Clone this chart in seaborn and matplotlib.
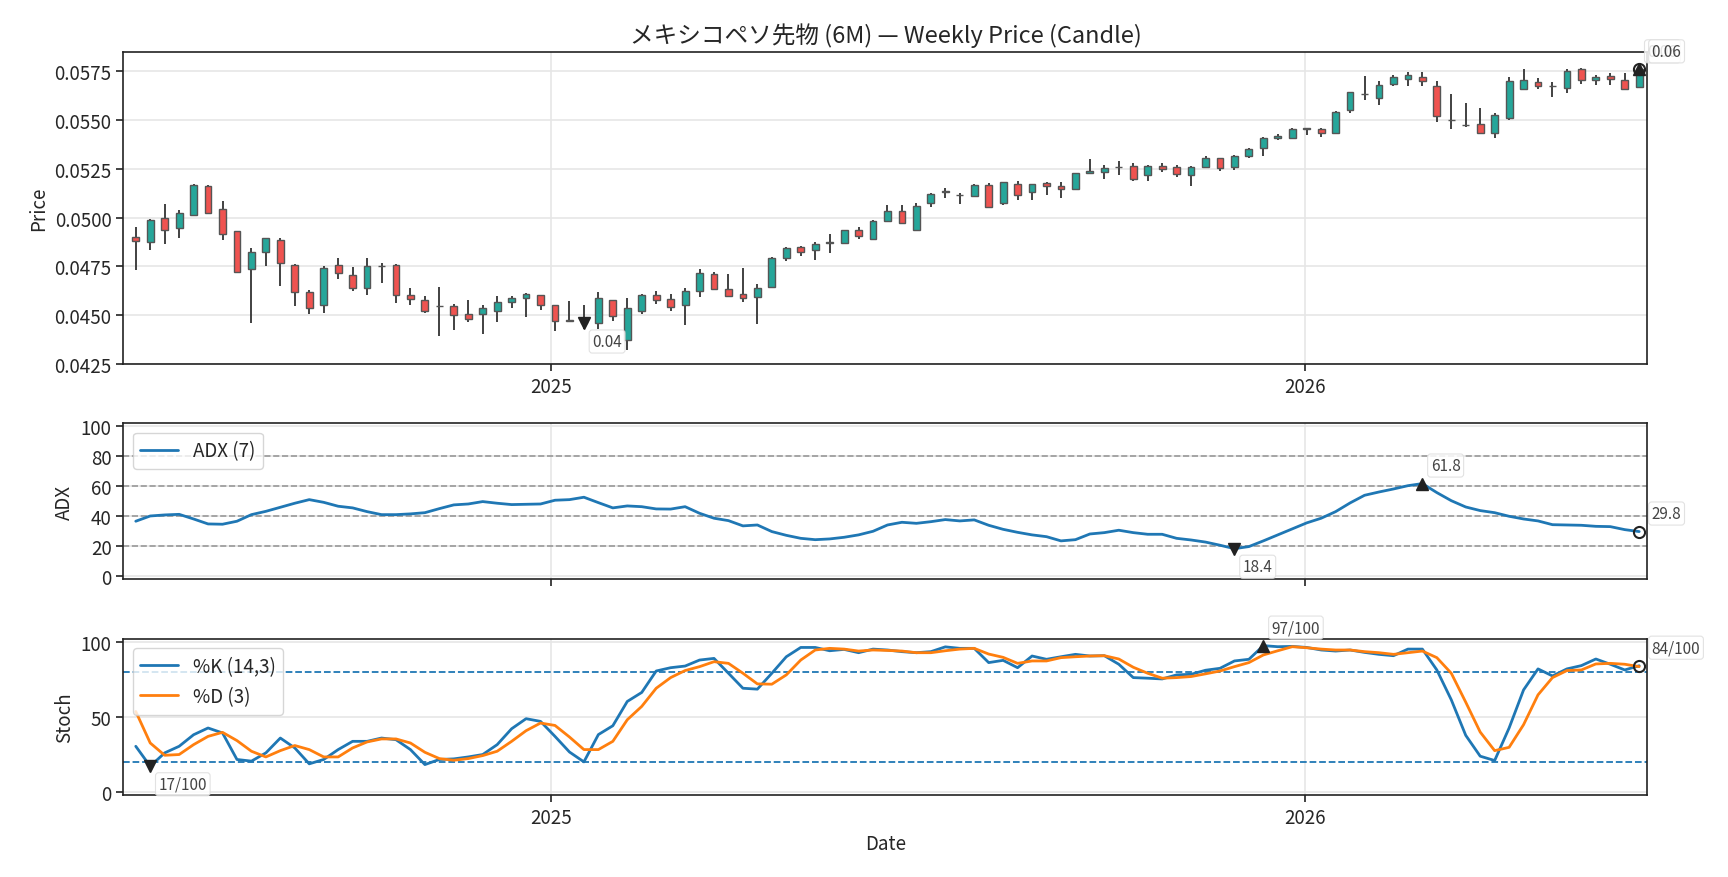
import numpy as np
import pandas as pd
import matplotlib
matplotlib.use("Agg")
import matplotlib.pyplot as plt
import matplotlib.dates as mdates
import seaborn as sns

# weekly OHLC, MXN futures (6M)
dates = pd.date_range("2024-06-14", periods=105, freq="7D")

opens = [0.04899, 0.04873, 0.04996, 0.04945, 0.05012, 0.05163, 0.05044, 0.04931, 0.04734, 0.04825,
         0.04885, 0.04757, 0.04618, 0.04550, 0.04757, 0.04705, 0.04637, 0.04751, 0.04757, 0.04603,
         0.04577, 0.04548, 0.04546, 0.04505, 0.04507, 0.04519, 0.04565, 0.04586, 0.04603, 0.04551,
         0.04474, 0.04469, 0.04457, 0.04575, 0.04372, 0.04520, 0.04603, 0.04580, 0.04551, 0.04623,
         0.04712, 0.04633, 0.04608, 0.04591, 0.04645, 0.04791, 0.04849, 0.04832, 0.04870, 0.04868,
         0.04935, 0.04889, 0.04981, 0.05032, 0.04938, 0.05075, 0.05132, 0.05116, 0.05111, 0.05168,
         0.05073, 0.05171, 0.05130, 0.05176, 0.05161, 0.05145, 0.05228, 0.05233, 0.05257, 0.05263,
         0.05219, 0.05265, 0.05260, 0.05217, 0.05258, 0.05306, 0.05258, 0.05315, 0.05356, 0.05407,
         0.05409, 0.05455, 0.05455, 0.05436, 0.05551, 0.05632, 0.05611, 0.05683, 0.05710, 0.05722,
         0.05676, 0.05500, 0.05475, 0.05481, 0.05436, 0.05513, 0.05661, 0.05697, 0.05675, 0.05664,
         0.05762, 0.05707, 0.05724, 0.05707, 0.05671]
highs = [0.04954, 0.04995, 0.05068, 0.05041, 0.05171, 0.05166, 0.05087, 0.04933, 0.04846, 0.04897,
         0.04897, 0.04762, 0.04630, 0.04752, 0.04791, 0.04748, 0.04794, 0.04769, 0.04762, 0.04637,
         0.04599, 0.04645, 0.04558, 0.04579, 0.04553, 0.04596, 0.04596, 0.04611, 0.04605, 0.04553,
         0.04574, 0.04551, 0.04620, 0.04578, 0.04586, 0.04606, 0.04623, 0.04610, 0.04637, 0.04734,
         0.04722, 0.04709, 0.04743, 0.04659, 0.04800, 0.04851, 0.04854, 0.04877, 0.04914, 0.04937,
         0.04954, 0.04986, 0.05062, 0.05062, 0.05077, 0.05128, 0.05150, 0.05125, 0.05173, 0.05178,
         0.05185, 0.05190, 0.05174, 0.05185, 0.05180, 0.05231, 0.05299, 0.05270, 0.05291, 0.05282,
         0.05269, 0.05281, 0.05270, 0.05263, 0.05318, 0.05308, 0.05320, 0.05359, 0.05412, 0.05430,
         0.05459, 0.05462, 0.05462, 0.05545, 0.05645, 0.05726, 0.05698, 0.05729, 0.05746, 0.05746,
         0.05703, 0.05633, 0.05587, 0.05561, 0.05537, 0.05719, 0.05762, 0.05715, 0.05695, 0.05762,
         0.05767, 0.05733, 0.05740, 0.05743, 0.05762]
lows = [0.04731, 0.04834, 0.04865, 0.04894, 0.05008, 0.05020, 0.04885, 0.04716, 0.04461, 0.04752,
        0.04649, 0.04546, 0.04505, 0.04510, 0.04685, 0.04625, 0.04603, 0.04666, 0.04563, 0.04551,
        0.04512, 0.04394, 0.04423, 0.04466, 0.04402, 0.04464, 0.04538, 0.04490, 0.04526, 0.04418,
        0.04466, 0.04431, 0.04431, 0.04469, 0.04320, 0.04503, 0.04558, 0.04522, 0.04449, 0.04594,
        0.04628, 0.04594, 0.04568, 0.04454, 0.04640, 0.04777, 0.04803, 0.04782, 0.04817, 0.04865,
        0.04889, 0.04885, 0.04979, 0.04967, 0.04933, 0.05056, 0.05099, 0.05068, 0.05108, 0.05051,
        0.05065, 0.05090, 0.05090, 0.05116, 0.05103, 0.05142, 0.05226, 0.05198, 0.05219, 0.05188,
        0.05188, 0.05236, 0.05209, 0.05162, 0.05257, 0.05240, 0.05245, 0.05308, 0.05317, 0.05400,
        0.05407, 0.05421, 0.05414, 0.05433, 0.05537, 0.05604, 0.05578, 0.05676, 0.05676, 0.05676,
        0.05488, 0.05455, 0.05467, 0.05431, 0.05406, 0.05503, 0.05659, 0.05657, 0.05618, 0.05637,
        0.05686, 0.05681, 0.05681, 0.05655, 0.05667]
closes = [0.04878, 0.04988, 0.04935, 0.05024, 0.05168, 0.05022, 0.04914, 0.04722, 0.04824, 0.04895,
          0.04769, 0.04616, 0.04536, 0.04741, 0.04714, 0.04639, 0.04752, 0.04752, 0.04601, 0.04580,
          0.04519, 0.04546, 0.04502, 0.04478, 0.04536, 0.04567, 0.04587, 0.04606, 0.04551, 0.04471,
          0.04472, 0.04457, 0.04587, 0.04495, 0.04538, 0.04603, 0.04575, 0.04539, 0.04623, 0.04714,
          0.04635, 0.04599, 0.04586, 0.04639, 0.04793, 0.04846, 0.04822, 0.04863, 0.04872, 0.04935,
          0.04906, 0.04983, 0.05034, 0.04971, 0.05058, 0.05121, 0.05134, 0.05114, 0.05168, 0.05056,
          0.05180, 0.05116, 0.05171, 0.05162, 0.05147, 0.05228, 0.05241, 0.05255, 0.05258, 0.05200,
          0.05263, 0.05248, 0.05222, 0.05260, 0.05308, 0.05253, 0.05317, 0.05353, 0.05409, 0.05419,
          0.05455, 0.05457, 0.05433, 0.05541, 0.05642, 0.05633, 0.05681, 0.05722, 0.05733, 0.05703,
          0.05520, 0.05498, 0.05474, 0.05433, 0.05524, 0.05702, 0.05707, 0.05674, 0.05674, 0.05753,
          0.05705, 0.05721, 0.05712, 0.05661, 0.05760]

adx = [36.7, 40.2, 40.9, 41.3, 38.2, 34.9, 34.7, 36.7, 41.1, 43.3,
       46.0, 48.7, 51.1, 49.3, 46.7, 45.6, 43.1, 41.1, 41.1, 41.6,
       42.4, 45.1, 47.6, 48.2, 49.8, 48.7, 47.8, 48.0, 48.2, 50.7,
       51.1, 52.7, 49.1, 45.6, 46.9, 46.4, 44.9, 44.8, 46.4, 42.0,
       38.7, 37.1, 33.6, 34.2, 29.8, 27.3, 25.3, 24.4, 24.9, 26.0,
       27.6, 30.0, 34.2, 36.0, 35.3, 36.4, 37.8, 36.9, 37.6, 34.0,
       31.3, 29.3, 27.6, 26.4, 23.6, 24.4, 28.2, 29.1, 30.7, 29.1,
       28.0, 28.0, 25.3, 24.2, 22.8, 20.7, 18.4, 19.8, 23.6, 27.6,
       31.6, 35.6, 38.7, 43.1, 48.9, 54.0, 56.2, 58.2, 60.4, 61.8,
       55.8, 50.4, 46.2, 43.8, 42.4, 40.0, 38.2, 36.9, 34.4, 34.2,
       34.0, 33.3, 33.1, 31.1, 29.8]

stoch_k = [30.3, 17.0, 25.9, 30.3, 38.0, 42.5, 39.2, 21.5, 20.4, 25.9,
           35.8, 29.2, 18.6, 21.5, 28.1, 33.6, 33.6, 35.8, 34.7, 28.1,
           18.1, 21.5, 21.9, 23.2, 24.8, 31.4, 42.0, 48.7, 46.9, 36.9,
           26.5, 19.9, 38.1, 44.0, 60.2, 66.2, 80.5, 82.7, 83.8, 87.8,
           88.9, 79.0, 69.0, 68.4, 79.0, 90.0, 96.2, 96.2, 94.0, 94.9,
           92.7, 95.1, 94.5, 93.4, 92.7, 93.4, 96.6, 95.6, 95.6, 86.1,
           87.6, 82.7, 90.5, 88.3, 90.0, 91.6, 90.5, 90.7, 85.0, 76.1,
           75.7, 75.2, 77.9, 78.3, 81.0, 82.3, 87.2, 88.3, 97.4, 96.7,
           96.9, 96.2, 94.5, 93.8, 94.5, 92.9, 91.6, 90.7, 95.1, 95.1,
           81.2, 61.3, 37.6, 23.7, 20.8, 42.5, 67.9, 81.9, 77.2, 81.9,
           84.1, 88.5, 85.0, 81.2, 84.0]
stoch_d = [53.5, 32.5, 24.3, 24.8, 31.4, 36.9, 39.6, 34.1, 27.0, 23.2,
           27.4, 30.8, 28.1, 23.2, 23.2, 29.2, 33.2, 35.2, 35.2, 32.5,
           26.3, 22.1, 21.0, 22.1, 24.1, 27.0, 33.6, 40.7, 45.8, 44.2,
           36.5, 28.1, 28.1, 33.6, 48.0, 56.9, 69.0, 76.1, 80.8, 83.4,
           86.7, 85.6, 79.0, 71.9, 71.7, 77.9, 87.8, 94.5, 95.6, 95.1,
           93.8, 94.5, 94.2, 93.8, 92.7, 92.7, 94.0, 95.1, 95.6, 91.8,
           89.6, 85.6, 87.2, 87.2, 89.4, 90.0, 90.5, 90.7, 88.5, 83.0,
           79.0, 75.7, 76.1, 76.8, 78.6, 80.5, 83.4, 86.1, 91.2, 94.0,
           96.7, 96.0, 95.1, 94.5, 94.5, 93.4, 92.7, 91.6, 92.7, 93.8,
           89.4, 79.0, 59.7, 39.8, 27.4, 29.6, 44.7, 64.6, 76.1, 80.8,
           81.2, 85.2, 85.6, 85.0, 83.4]

df = pd.DataFrame({"Date": dates, "Open": opens, "High": highs, "Low": lows, "Close": closes,
                   "ADX": adx, "K": stoch_k, "D": stoch_d})

UP = "#26a69a"
DOWN = "#ef5350"

sns.set_theme(style="ticks")
plt.rcParams["font.family"] = ["Noto Sans CJK JP", "DejaVu Sans"]
plt.rcParams["axes.edgecolor"] = "#222222"
plt.rcParams["axes.linewidth"] = 1.2

fig, (ax1, ax2, ax3) = plt.subplots(3, 1, figsize=(17.28, 8.78), dpi=100, sharex=True,
                                    gridspec_kw={"height_ratios": [2, 1, 1]})
fig.subplots_adjust(left=0.0714, right=0.9534, top=0.9398, bottom=0.0937, hspace=0.286)

FS = 13.5
ann_kw = dict(textcoords="offset points", fontsize=11, color="#444444",
              bbox=dict(boxstyle="round,pad=0.2", fc="white", ec="#dddddd", alpha=0.85, lw=0.8))


def mark(ax, x, y, kind, text):
    if kind == "max":
        ax.plot(x, y, marker="^", color="#222222", ms=8, zorder=6)
        ax.annotate(text, (x, y), xytext=(6, 13), ha="left", va="center", **ann_kw)
    elif kind == "min":
        ax.plot(x, y, marker="v", color="#222222", ms=8, zorder=6)
        ax.annotate(text, (x, y), xytext=(6, -13), ha="left", va="center", **ann_kw)
    else:
        ax.plot(x, y, marker="o", mfc="none", mec="#222222", mew=1.5, ms=8, zorder=6)
        ax.annotate(text, (x, y), xytext=(9, 13), ha="left", va="center",
                    annotation_clip=False, **ann_kw)


# --- price candles
up = df["Close"] >= df["Open"]
body_lo = np.minimum(df["Open"], df["Close"])
body_h = (df["Close"] - df["Open"]).abs().clip(lower=0.00003)
ax1.vlines(df["Date"], df["Low"], df["High"], color="#333333", lw=1.3, zorder=2)
ax1.bar(df["Date"], body_h, bottom=body_lo, width=3.3,
        color=np.where(up, UP, DOWN), edgecolor="#555555", linewidth=1.0, zorder=3)

i_min = int(np.argmin(closes))
i_max = int(np.argmax(closes))
mark(ax1, dates[i_min], closes[i_min], "min", f"{closes[i_min]:.2f}")
mark(ax1, dates[i_max], closes[i_max], "max", f"{closes[i_max]:.2f}")
mark(ax1, dates[-1], closes[-1], "last", f"{closes[-1]:.2f}")

ax1.set_ylim(0.0425, 0.0585)
ax1.set_yticks(np.arange(0.0425, 0.05751, 0.0025))
ax1.yaxis.set_major_formatter(plt.FormatStrFormatter("%.4f"))
ax1.set_ylabel("Price", fontsize=FS)
ax1.set_title("メキシコペソ先物 (6M) — Weekly Price (Candle)", fontsize=17, pad=7)

# --- ADX
for lvl in [20, 40, 60, 80]:
    ax2.axhline(lvl, color="#999999", ls="--", lw=1.2, zorder=1)
sns.lineplot(data=df, x="Date", y="ADX", ax=ax2, color="#1f77b4", lw=2, label="ADX (7)", zorder=4)
i_amax = int(np.argmax(adx))
i_amin = int(np.argmin(adx))
mark(ax2, dates[i_amax], adx[i_amax], "max", f"{adx[i_amax]:.1f}")
mark(ax2, dates[i_amin], adx[i_amin], "min", f"{adx[i_amin]:.1f}")
mark(ax2, dates[-1], adx[-1], "last", f"{adx[-1]:.1f}")
ax2.set_ylim(-2, 102)
ax2.set_yticks([0, 20, 40, 60, 80, 100])
ax2.set_ylabel("ADX", fontsize=FS)
ax2.legend(loc="upper left", fontsize=FS, frameon=True, fancybox=True, edgecolor="#cccccc")
ax2.tick_params(labelbottom=False)

# --- Stochastic
ax3.axhline(80, color="#1f77b4", ls="--", lw=1.3, zorder=1)
ax3.axhline(20, color="#1f77b4", ls="--", lw=1.3, zorder=1)
sns.lineplot(data=df, x="Date", y="K", ax=ax3, color="#1f77b4", lw=2, label="%K (14,3)", zorder=4)
sns.lineplot(data=df, x="Date", y="D", ax=ax3, color="#ff7f0e", lw=2, label="%D (3)", zorder=4)
i_kmax = int(np.argmax(stoch_k))
i_kmin = int(np.argmin(stoch_k))
mark(ax3, dates[i_kmax], stoch_k[i_kmax], "max", f"{stoch_k[i_kmax]:.0f}/100")
mark(ax3, dates[i_kmin], stoch_k[i_kmin], "min", f"{stoch_k[i_kmin]:.0f}/100")
mark(ax3, dates[-1], stoch_k[-1], "last", f"{stoch_k[-1]:.0f}/100")
ax3.set_ylim(-2, 102)
ax3.set_yticks([0, 50, 100])
ax3.set_ylabel("Stoch", fontsize=FS)
ax3.set_xlabel("Date", fontsize=FS)
ax3.legend(loc="upper left", fontsize=FS, frameon=True, fancybox=True, edgecolor="#cccccc")

for ax in (ax1, ax2, ax3):
    ax.grid(True, color="#e6e6e6", lw=1.2)
    ax.set_axisbelow(True)
    ax.tick_params(labelsize=FS, length=5, width=1.2, color="#222222", direction="out")
    for s in ax.spines.values():
        s.set_visible(True)
    ax.xaxis.set_major_locator(mdates.YearLocator())
    ax.xaxis.set_major_formatter(mdates.DateFormatter("%Y"))
ax1.tick_params(labelbottom=True)
ax1.set_xlim(dates[0] - pd.Timedelta(days=6), dates[-1] + pd.Timedelta(days=4))

fig.savefig("out.png", dpi=100)
